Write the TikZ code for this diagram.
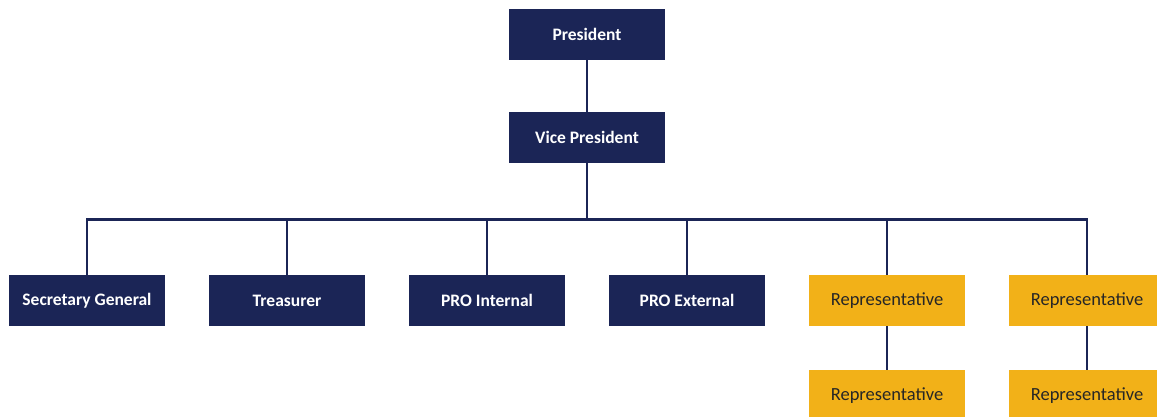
\documentclass[tikz,border=0pt]{standalone}
\usepackage{fontspec}
\setmainfont{Carlito}
\usepackage{tikz}
\usetikzlibrary{positioning, calc}
\definecolor{navy}{HTML}{1B2556}
\definecolor{gold}{HTML}{F2B118}

\tikzset{
    officer/.style={rectangle, fill=navy, text=white, font=\bfseries\fontsize{17.5}{20}\selectfont, minimum width=156pt, minimum height=51pt, inner sep=0pt},
    rep/.style={rectangle, fill=gold, text=black!85, font=\fontsize{18.5}{21}\selectfont, minimum width=156pt, minimum height=51pt, inner sep=0pt},
    link/.style={draw=navy, line width=2.2pt}
}

\begin{document}
\begin{tikzpicture}[x=1pt, y=-1pt]
    \clip (0,0) rectangle (1157,416);
    \useasboundingbox (0,0) rectangle (1157,416);

    % Nodes on top
    \node[officer] (pres) at (587,34.5) {President};
    \node[officer] (vp) at (587,137.5) {Vice President};

    % Nodes in the row
    \node[officer] (sec) at (87,300.5) {Secretary General};
    \node[officer] (tre) at (287,300.5) {Treasurer};
    \node[officer] (proint) at (487,300.5) {PRO Internal};
    \node[officer] (proext) at (687,300.5) {PRO External};
    \node[rep] (repa) at (887,300.5) {Representative};
    \node[rep] (repb) at (1087,300.5) {Representative};

    % Nodes below
    \node[rep] (repc) at (887,395.5) {Representative};
    \node[rep] (repd) at (1087,395.5) {Representative};

    % Edges
    \coordinate (bus) at (587,219.5);
    \draw[link] (pres) -- (vp);
    \draw[link] (vp) -- (bus);
    \draw[link] (sec.north) |- (bus) -| (repb.north);
    \draw[link] (tre.north) -- (tre.north |- bus);
    \draw[link] (proint.north) -- (proint.north |- bus);
    \draw[link] (proext.north) -- (proext.north |- bus);
    \draw[link] (repa.north) -- (repa.north |- bus);
    \draw[link] (repa) -- (repc);
    \draw[link] (repb) -- (repd);
\end{tikzpicture}
\end{document}
